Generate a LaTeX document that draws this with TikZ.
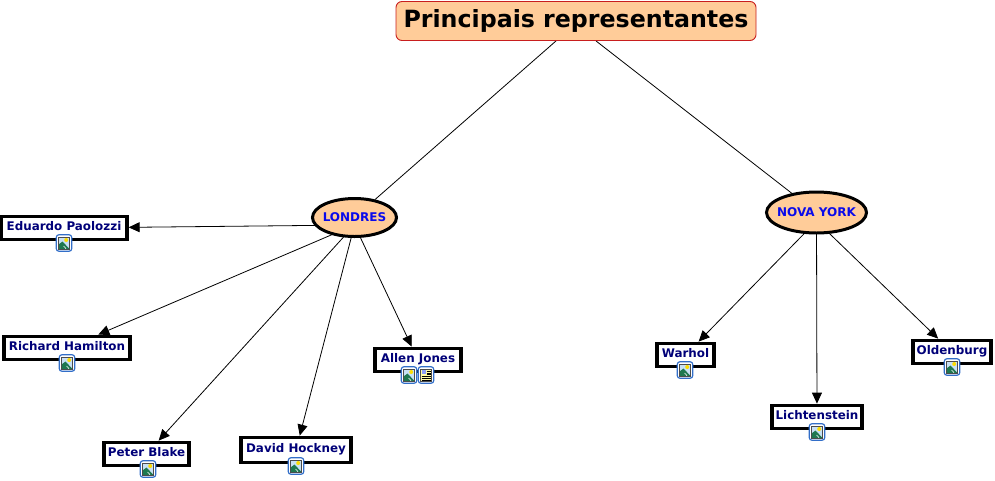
\documentclass[tikz,border=0pt]{standalone}
\usepackage{fontspec}
\setmainfont{DejaVu Sans}
\usetikzlibrary{arrows.meta,shapes.geometric,backgrounds}
\definecolor{peach}{RGB}{255,204,153}
\definecolor{titleedge}{RGB}{200,30,30}
\definecolor{navytext}{RGB}{0,0,120}
\definecolor{bluetext}{RGB}{10,10,235}
\definecolor{iconblue}{RGB}{50,110,200}
\definecolor{icongreen}{RGB}{30,120,80}
\definecolor{iconsky}{RGB}{200,225,245}
\tikzset{
  titlebox/.style={draw=titleedge,fill=peach,rounded corners=6pt,line width=0.9pt,inner sep=0pt,
    minimum width=360pt,minimum height=39pt,text height=20pt,text depth=8pt,font=\bfseries\fontsize{23.7}{25}\selectfont,text=black},
  hub/.style={draw=black,fill=peach,ellipse,line width=3pt,inner ysep=0pt,
    font=\bfseries\fontsize{12}{12}\selectfont,text=bluetext},
  person/.style={draw=black,fill=white,line width=3.3pt,inner sep=0pt,text height=9pt,text depth=5pt,
    font=\bfseries\fontsize{11.9}{12}\selectfont,text=navytext},
  plainlink/.style={draw=black,line width=0.8pt},
  arrowlink/.style={plainlink,-{Triangle[length=11pt,width=10pt]}},
  imgicon/.pic={
    \draw[iconblue,fill=white,line width=1.2pt,rounded corners=2.5pt] (-7.7,-8.2) rectangle (7.7,8.2);
    \fill[iconsky] (-5.5,-6) rectangle (5.5,6);
    \fill[yellow!80!orange] (2.2,-3) circle (2pt);
    \fill[icongreen] (-5.5,6) -- (-5.5,1.5) -- (-1.5,-1.5) -- (5.5,6) -- cycle;
    \draw[white,line width=0.6pt] (-0.5,3) -- (2,5.6);
    \draw[black!70,line width=0.5pt] (-5.5,-6) rectangle (5.5,6);
  },
  texticon/.pic={
    \draw[iconblue,fill=white,line width=1.2pt,rounded corners=2.5pt] (-7.7,-8.2) rectangle (7.7,8.2);
    \fill[yellow!35] (-5.5,-6) rectangle (5.5,6);
    \fill[iconsky!70!blue] (-4.5,-5) rectangle (-0.5,-1);
    \foreach \yy in {-4,-2.2,-0.4,1.4,3.2,5}{\draw[black,line width=0.6pt] (\ifdim\yy pt<0pt 0.5\else -4.5\fi,\yy) -- (4.5,\yy);}
    \draw[black!70,line width=0.5pt] (-5.5,-6) rectangle (5.5,6);
  }
}
\begin{document}
\begin{tikzpicture}[x=1pt,y=-1pt]
\useasboundingbox (0,0) rectangle (995,480);
\node[titlebox] (title) at (576,21) {Principais representantes};
\node[hub,inner xsep=-2.3pt,minimum width=84pt,minimum height=38pt] (lon) at (354.5,217.5) {LONDRES};
\node[hub,inner xsep=-5.6pt,minimum width=100pt,minimum height=41pt] (ny) at (816.5,212.5) {NOVA YORK};
\node[person,minimum width=126pt,minimum height=23.5pt] (edu) at (64,228) {Eduardo Paolozzi};
\node[person,minimum width=126pt,minimum height=23.5pt] (ric) at (67,348) {Richard Hamilton};
\node[person,minimum width=85pt,minimum height=23.5pt] (pet) at (146.5,454) {Peter Blake};
\node[person,minimum width=110pt,minimum height=25.5pt] (dav) at (296,450) {David Hockney};
\node[person,minimum width=86pt,minimum height=23.5pt] (all) at (418,360) {Allen Jones};
\node[person,minimum width=57pt,minimum height=23.5pt] (war) at (685.5,355) {Warhol};
\node[person,minimum width=90pt,minimum height=23.5pt] (lic) at (817,417) {Lichtenstein};
\node[person,minimum width=78pt,minimum height=23.5pt] (old) at (952,352) {Oldenburg};
\coordinate (lonsrc) at ([yshift=-7.5pt]lon.center);
\coordinate (nysrc) at ([yshift=-8.5pt]ny.center);
\begin{scope}[on background layer]
\draw[plainlink] ([xshift=-20pt]title.south) -- (lon);
\draw[plainlink] ([xshift=20pt]title.south) -- (ny);
\foreach \t in {edu,ric,pet,dav,all}{\draw[arrowlink] (lonsrc) -- (\t);}
\foreach \t in {war,lic,old}{\draw[arrowlink] (nysrc) -- (\t);}
\end{scope}
\pic at (64,243) {imgicon};
\pic at (67,363) {imgicon};
\pic at (148,469) {imgicon};
\pic at (296,466) {imgicon};
\pic at (409,375) {imgicon};
\pic at (426,375) {texticon};
\pic at (685,370) {imgicon};
\pic at (817,432) {imgicon};
\pic at (952,367) {imgicon};
\end{tikzpicture}
\end{document}
